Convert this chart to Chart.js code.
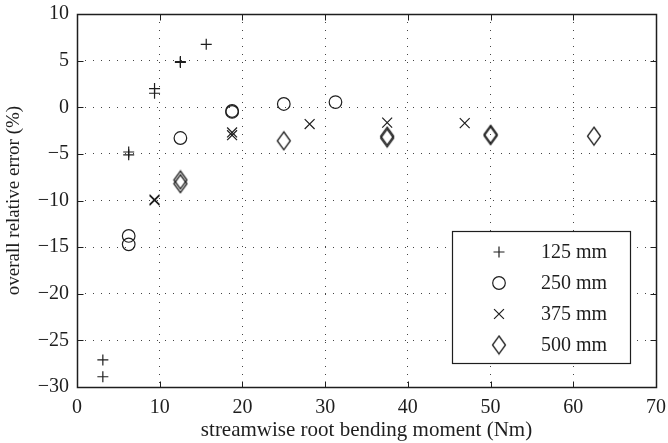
<!DOCTYPE html>
<html>
<head>
<meta charset="utf-8">
<script src="https://cdn.jsdelivr.net/npm/chart.js@4/dist/chart.umd.min.js"></script>
<style>
  html, body { margin: 0; padding: 0; background: #fff; }
  #wrap { width: 668px; height: 443px; }
</style>
</head>
<body>
<div id="wrap"><canvas id="errChart"></canvas></div>
<script>
// data (x = root bending moment in Nm, y = error in %)
const seriesNames = ['125 mm', '250 mm', '375 mm', '500 mm'];
const x125 = [3.125, 3.125, 6.25, 6.25, 9.375, 9.375, 12.5, 12.5, 15.625];
const y125 = [-27.1, -28.9, -4.8, -5.1, 2.0, 1.5, 4.9, 4.8, 6.75];
const x250 = [6.25, 6.25, 12.5, 18.75, 18.75, 25, 31.25];
const y250 = [-13.8, -14.7, -3.3, -0.4, -0.5, 0.35, 0.55];
const x375 = [9.375, 9.375, 18.75, 18.75, 28.125, 37.5, 46.875];
const y375 = [-9.9, -10.0, -2.7, -3.0, -1.8, -1.65, -1.7];
const x500 = [12.5, 12.5, 25, 37.5, 37.5, 50, 50, 62.5];
const y500 = [-7.8, -8.2, -3.6, -3.1, -3.3, -2.9, -3.05, -3.1];
const xTicks = [0, 10, 20, 30, 40, 50, 60, 70];
const yTicks = [-30, -25, -20, -15, -10, -5, 0, 5, 10];

const ink = '#1e1e1e';
const serif = "'Liberation Serif', 'Times New Roman', serif";

// tall diamond marker like the matlab one
function diamond() {
    const c = document.createElement('canvas');
    c.width = 16; c.height = 21;
    const g = c.getContext('2d');
    g.strokeStyle = ink;
    g.lineWidth = 1.3;
    g.beginPath();
    g.moveTo(8, 1.5);
    g.lineTo(14.5, 10.5);
    g.lineTo(8, 19.5);
    g.lineTo(1.5, 10.5);
    g.closePath();
    g.stroke();
    return c;
}
const diamondImg = diamond();

const pts = (xs, ys) => xs.map((v, i) => ({x: v, y: ys[i]}));
const markers = [
    {style: 'cross', radius: 5.5},
    {style: 'circle', radius: 6.3},
    {style: 'crossRot', radius: 7},
    {style: diamondImg, radius: 8}
];

const datasets = [[x125, y125], [x250, y250], [x375, y375], [x500, y500]].map((s, i) => ({
    label: seriesNames[i],
    data: pts(s[0], s[1]),
    pointStyle: markers[i].style,
    pointRadius: markers[i].radius,
    pointHoverRadius: markers[i].radius,
    borderColor: ink,
    backgroundColor: 'rgba(0,0,0,0)',
    pointBorderWidth: 1.2,
    showLine: false
}));

const minus = v => String(v).replace('-', '\u2212');

// box, inward tick marks and the legend panel
const frame = {
    id: 'frame',
    afterDraw(chart) {
        const {ctx, chartArea: a} = chart;
        const sx = chart.scales.x, sy = chart.scales.y;
        const L = Math.round(a.left) + 0.5, R = Math.round(a.right) + 0.5;
        const T = Math.round(a.top) + 0.5, B = Math.round(a.bottom) + 0.5;
        ctx.save();
        ctx.strokeStyle = ink;
        ctx.lineWidth = 1;
        ctx.beginPath();
        xTicks.forEach(t => {
            const px = Math.round(sx.getPixelForValue(t)) + 0.5;
            ctx.moveTo(px, B); ctx.lineTo(px, B - 6);
            ctx.moveTo(px, T); ctx.lineTo(px, T + 6);
        });
        yTicks.forEach(t => {
            const py = Math.round(sy.getPixelForValue(t)) + 0.5;
            ctx.moveTo(L, py); ctx.lineTo(L + 6, py);
            ctx.moveTo(R, py); ctx.lineTo(R - 6, py);
        });
        ctx.stroke();
        ctx.lineWidth = 1.5;
        ctx.strokeRect(L, T, R - L, B - T);

        // legend
        const lx = 452.5, ly = 231.5, lw = 178, lh = 132;
        ctx.fillStyle = '#fff';
        ctx.fillRect(lx, ly, lw, lh);
        ctx.lineWidth = 1.2;
        ctx.strokeRect(lx, ly, lw, lh);
        ctx.font = '20px ' + serif;
        ctx.textBaseline = 'middle';
        ctx.textAlign = 'left';
        seriesNames.forEach((name, i) => {
            const ry = 252 + i * 31;
            ctx.lineWidth = 1.2;
            ctx.strokeStyle = ink;
            ctx.fillStyle = 'rgba(0,0,0,0)';
            Chart.helpers.drawPoint(ctx, {
                pointStyle: markers[i].style,
                radius: markers[i].radius,
                borderWidth: 1.2,
                rotation: 0
            }, 499, ry);
            ctx.fillStyle = ink;
            ctx.fillText(name, 541, ry + 1);
        });
        ctx.restore();
    }
};

new Chart(document.getElementById('errChart').getContext('2d'), {
    type: 'scatter',
    data: {datasets: datasets},
    options: {
        responsive: true,
        maintainAspectRatio: false,
        animation: false,
        layout: {padding: {top: 14, right: 12, left: 0, bottom: 0}},
        plugins: {legend: {display: false}, tooltip: {enabled: false}},
        scales: {
            x: {
                type: 'linear',
                min: 0, max: 70,
                afterFit: s => { s.height = 56; s.paddingLeft = 0; s.paddingRight = 0; },
                afterBuildTicks: s => { s.ticks = xTicks.map(v => ({value: v})); },
                ticks: {color: ink, padding: 9, font: {family: serif, size: 20}},
                grid: {color: '#444', lineWidth: 1, drawTicks: false},
                border: {display: false, dash: [1, 7]},
                title: {
                    display: true,
                    text: 'streamwise root bending moment (Nm)',
                    color: ink,
                    font: {family: serif, size: 21},
                    padding: {top: 0, bottom: 0}
                }
            },
            y: {
                type: 'linear',
                min: -30, max: 10,
                afterFit: s => { s.width = 77; s.paddingTop = 0; s.paddingBottom = 0; },
                afterBuildTicks: s => { s.ticks = yTicks.map(v => ({value: v})); },
                ticks: {color: ink, padding: 8, font: {family: serif, size: 20}, callback: v => minus(v)},
                grid: {color: '#444', lineWidth: 1, drawTicks: false},
                border: {display: false, dash: [1, 7]},
                title: {
                    display: true,
                    text: 'overall relative error (%)',
                    color: ink,
                    font: {family: serif, size: 19},
                    padding: {top: 3, bottom: 0}
                }
            }
        }
    },
    plugins: [frame]
});
</script>
</body>
</html>
